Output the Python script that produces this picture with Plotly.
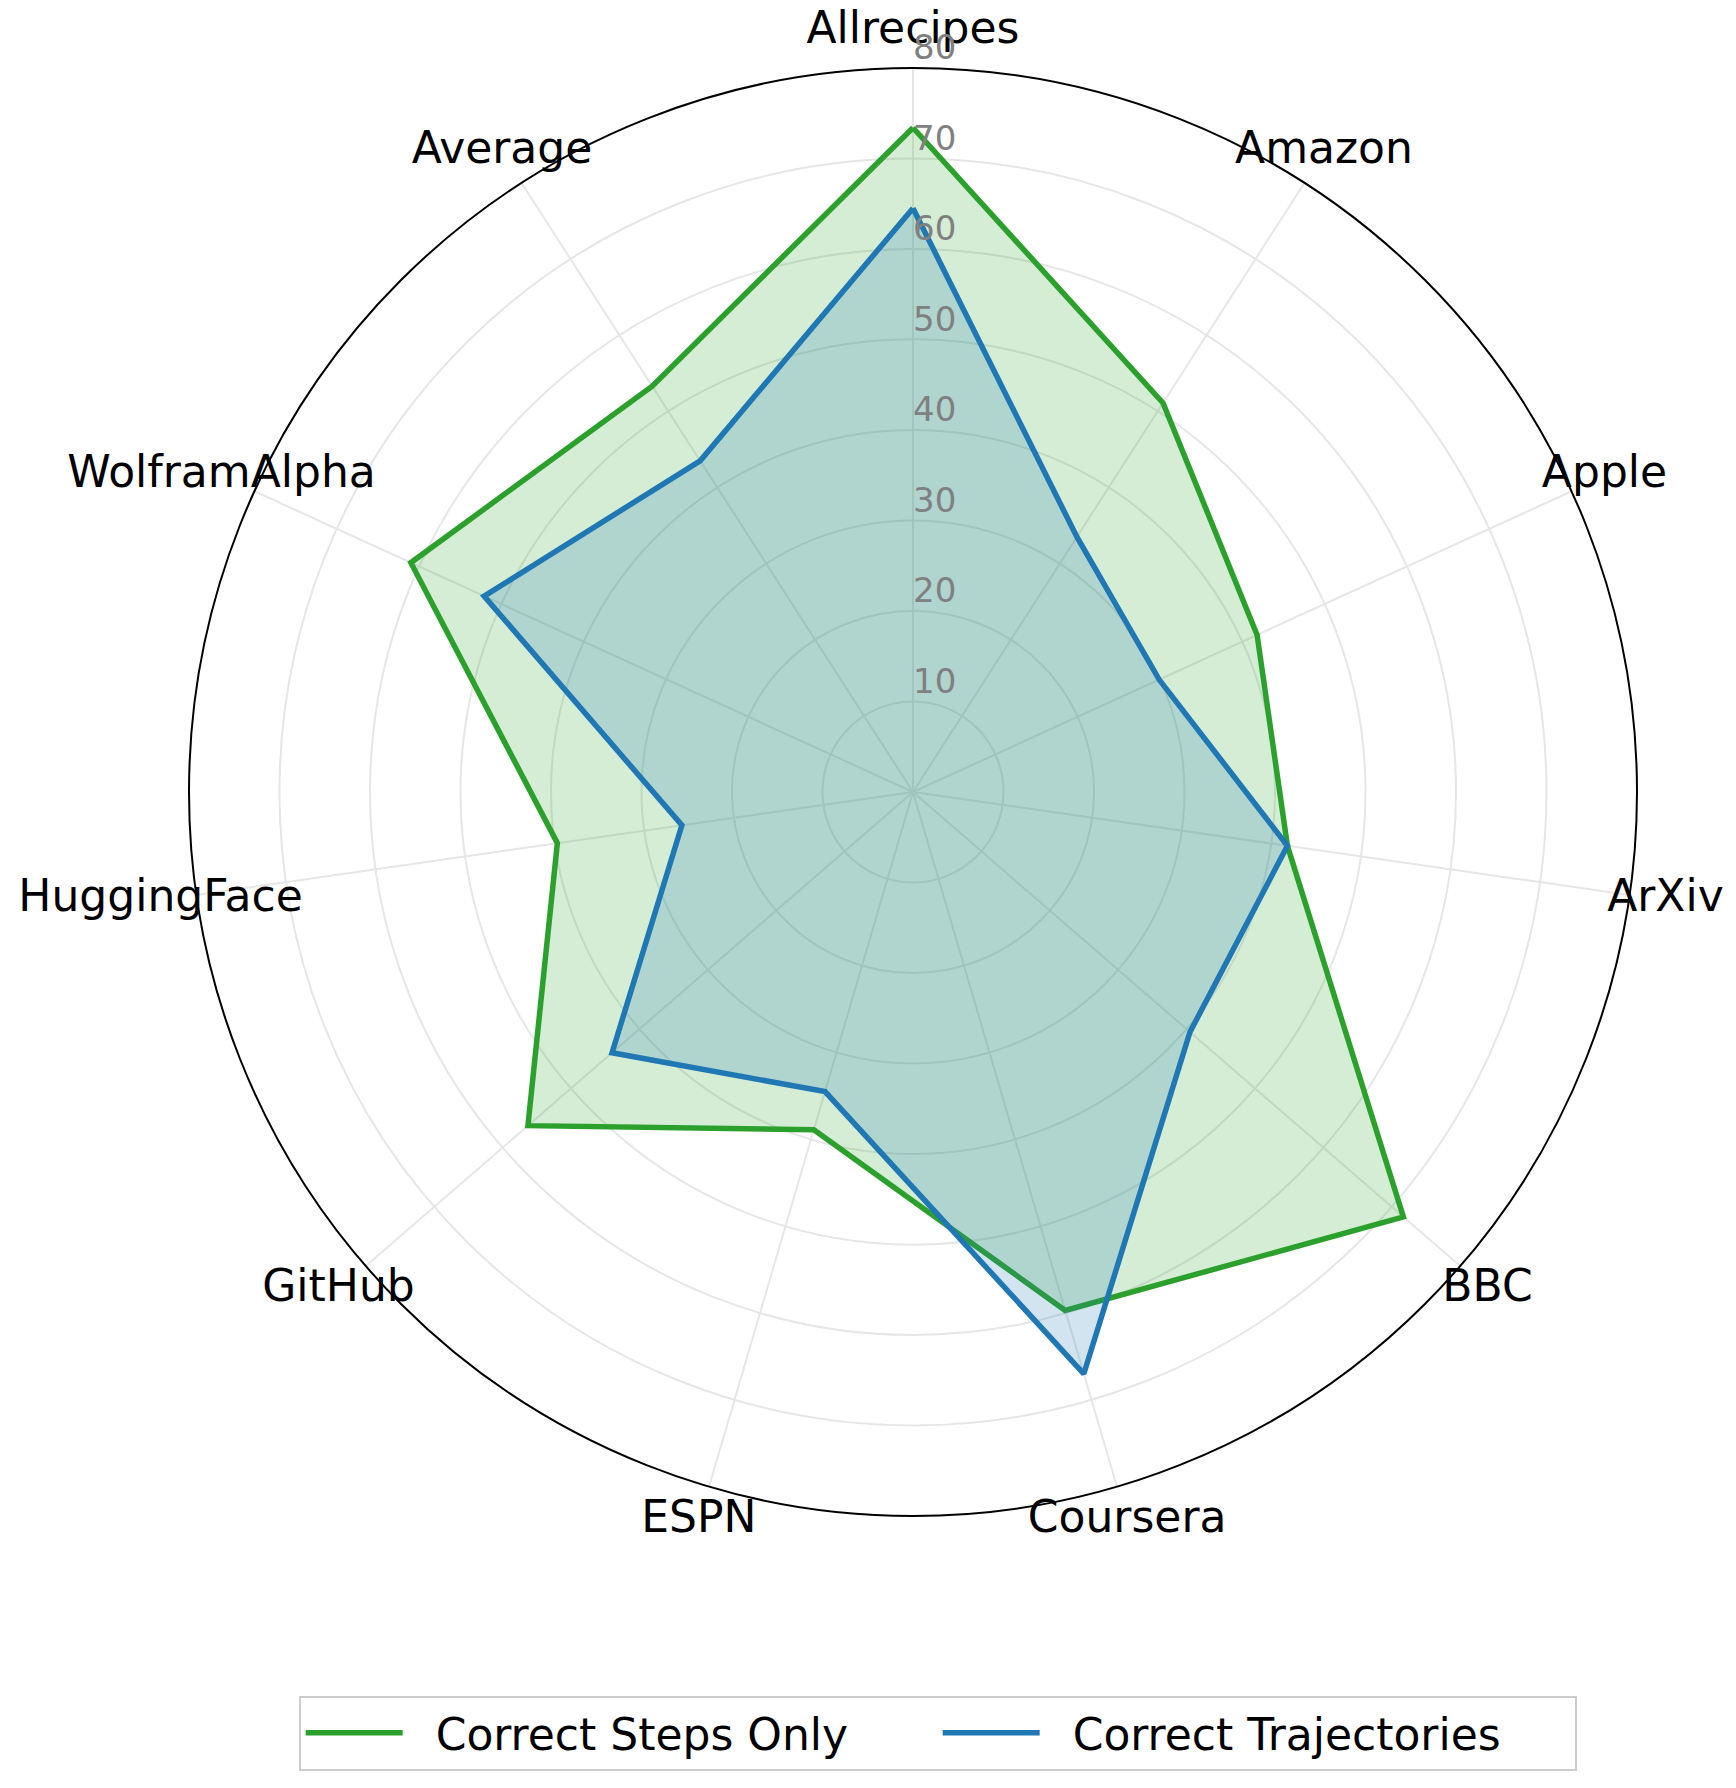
import plotly.graph_objects as go

# categories, clockwise from the top
categories = ["Allrecipes", "Amazon", "Apple", "ArXiv", "BBC", "Coursera",
              "ESPN", "GitHub", "HuggingFace", "WolframAlpha", "Average"]

# values
steps_only = [73.4, 51.1, 41.8, 41.8, 71.7, 59.7, 38.9, 56.3, 39.7, 61.0, 53.3]
trajectories = [64.5, 33.5, 29.9, 41.8, 40.5, 67.0, 34.5, 44.0, 25.8, 52.1, 43.5]

radial_ticks = [10, 20, 30, 40, 50, 60, 70, 80]

GREEN = "#2ca02c"
BLUE = "#1f77b4"

# the page body has an 8px margin, so the figure is 16px smaller than the window
W, H = 1720, 1772
CX, CY, R = 905, 784, 724   # circle centre / radius inside the figure, px
RMAX = 80
RTEXT = 86   # outer range of the overlay that carries the labels


def closed(vals):
    return list(vals) + [vals[0]]


def domain(radius):
    return dict(x=[(CX - radius) / W, (CX + radius) / W],
                y=[1 - (CY + radius) / H, 1 - (CY - radius) / H])


fig = go.Figure()

# filled polygons
fig.add_trace(go.Scatterpolar(
    r=closed(steps_only), theta=closed(categories),
    mode="lines", fill="toself", fillcolor="rgba(44,160,44,0.2)",
    line=dict(color=GREEN, width=5.5), name="Correct Steps Only",
    showlegend=False, hoverinfo="skip"))
fig.add_trace(go.Scatterpolar(
    r=closed(trajectories), theta=closed(categories),
    mode="lines", fill="toself", fillcolor="rgba(31,119,180,0.2)",
    line=dict(color=BLUE, width=5.5), name="Correct Trajectories",
    showlegend=False, hoverinfo="skip"))

# category labels centred just outside the outer ring
fig.add_trace(go.Scatterpolar(
    r=[84] * len(categories), theta=categories,
    mode="text", text=categories, textposition="middle center",
    textfont=dict(size=44, color="black"), cliponaxis=False,
    showlegend=False, hoverinfo="skip", subplot="polar2"))

# radial tick labels: just right of the top spoke, a bit above each ring
fig.add_trace(go.Scatterpolar(
    r=[t + 1.9 for t in radial_ticks], theta=[categories[0]] * len(radial_ticks),
    mode="text", text=[str(t) for t in radial_ticks], textposition="middle right",
    textfont=dict(size=34, color="#808080"), cliponaxis=False,
    showlegend=False, hoverinfo="skip", subplot="polar2"))

# line-only legend entries
nb = "\u00a0" * 2
fig.add_trace(go.Scatterpolar(r=[None], theta=[None], mode="lines",
                              line=dict(color=GREEN, width=5.5),
                              name=nb + "Correct Steps Only"))
fig.add_trace(go.Scatterpolar(r=[None], theta=[None], mode="lines",
                              line=dict(color=BLUE, width=5.5),
                              name=nb + "Correct Trajectories"))

hidden_axis = dict(showline=False, showgrid=False, showticklabels=False, ticks="")

fig.update_layout(
    width=W, height=H,
    margin=dict(l=0, r=0, t=0, b=0),
    paper_bgcolor="white",
    font=dict(family="DejaVu Sans", color="black"),
    polar=dict(
        domain=domain(R),
        bgcolor="white",
        angularaxis=dict(
            rotation=90, direction="clockwise",
            categoryorder="array", categoryarray=categories,
            showline=True, linecolor="black", linewidth=2,
            gridcolor="#e6e6e6", gridwidth=1.5,
            ticks="", showticklabels=False,
        ),
        radialaxis=dict(
            range=[0, RMAX], tickvals=radial_ticks, angle=90,
            showline=False, ticks="", showticklabels=False,
            gridcolor="#e6e6e6", gridwidth=1.5,
        ),
    ),
    polar2=dict(
        domain=domain(R * RTEXT / RMAX),
        bgcolor="rgba(0,0,0,0)",
        angularaxis=dict(rotation=90, direction="clockwise",
                         categoryorder="array", categoryarray=categories,
                         **hidden_axis),
        radialaxis=dict(range=[0, RTEXT], **hidden_axis),
    ),
    legend=dict(
        orientation="h", x=0.169, xanchor="left", y=0.0265, yanchor="middle",
        font=dict(size=44), bordercolor="#cccccc", borderwidth=2,
        bgcolor="white", itemwidth=97,
        entrywidth=525, entrywidthmode="pixels",
    ),
)

fig.write_html("out.html")
